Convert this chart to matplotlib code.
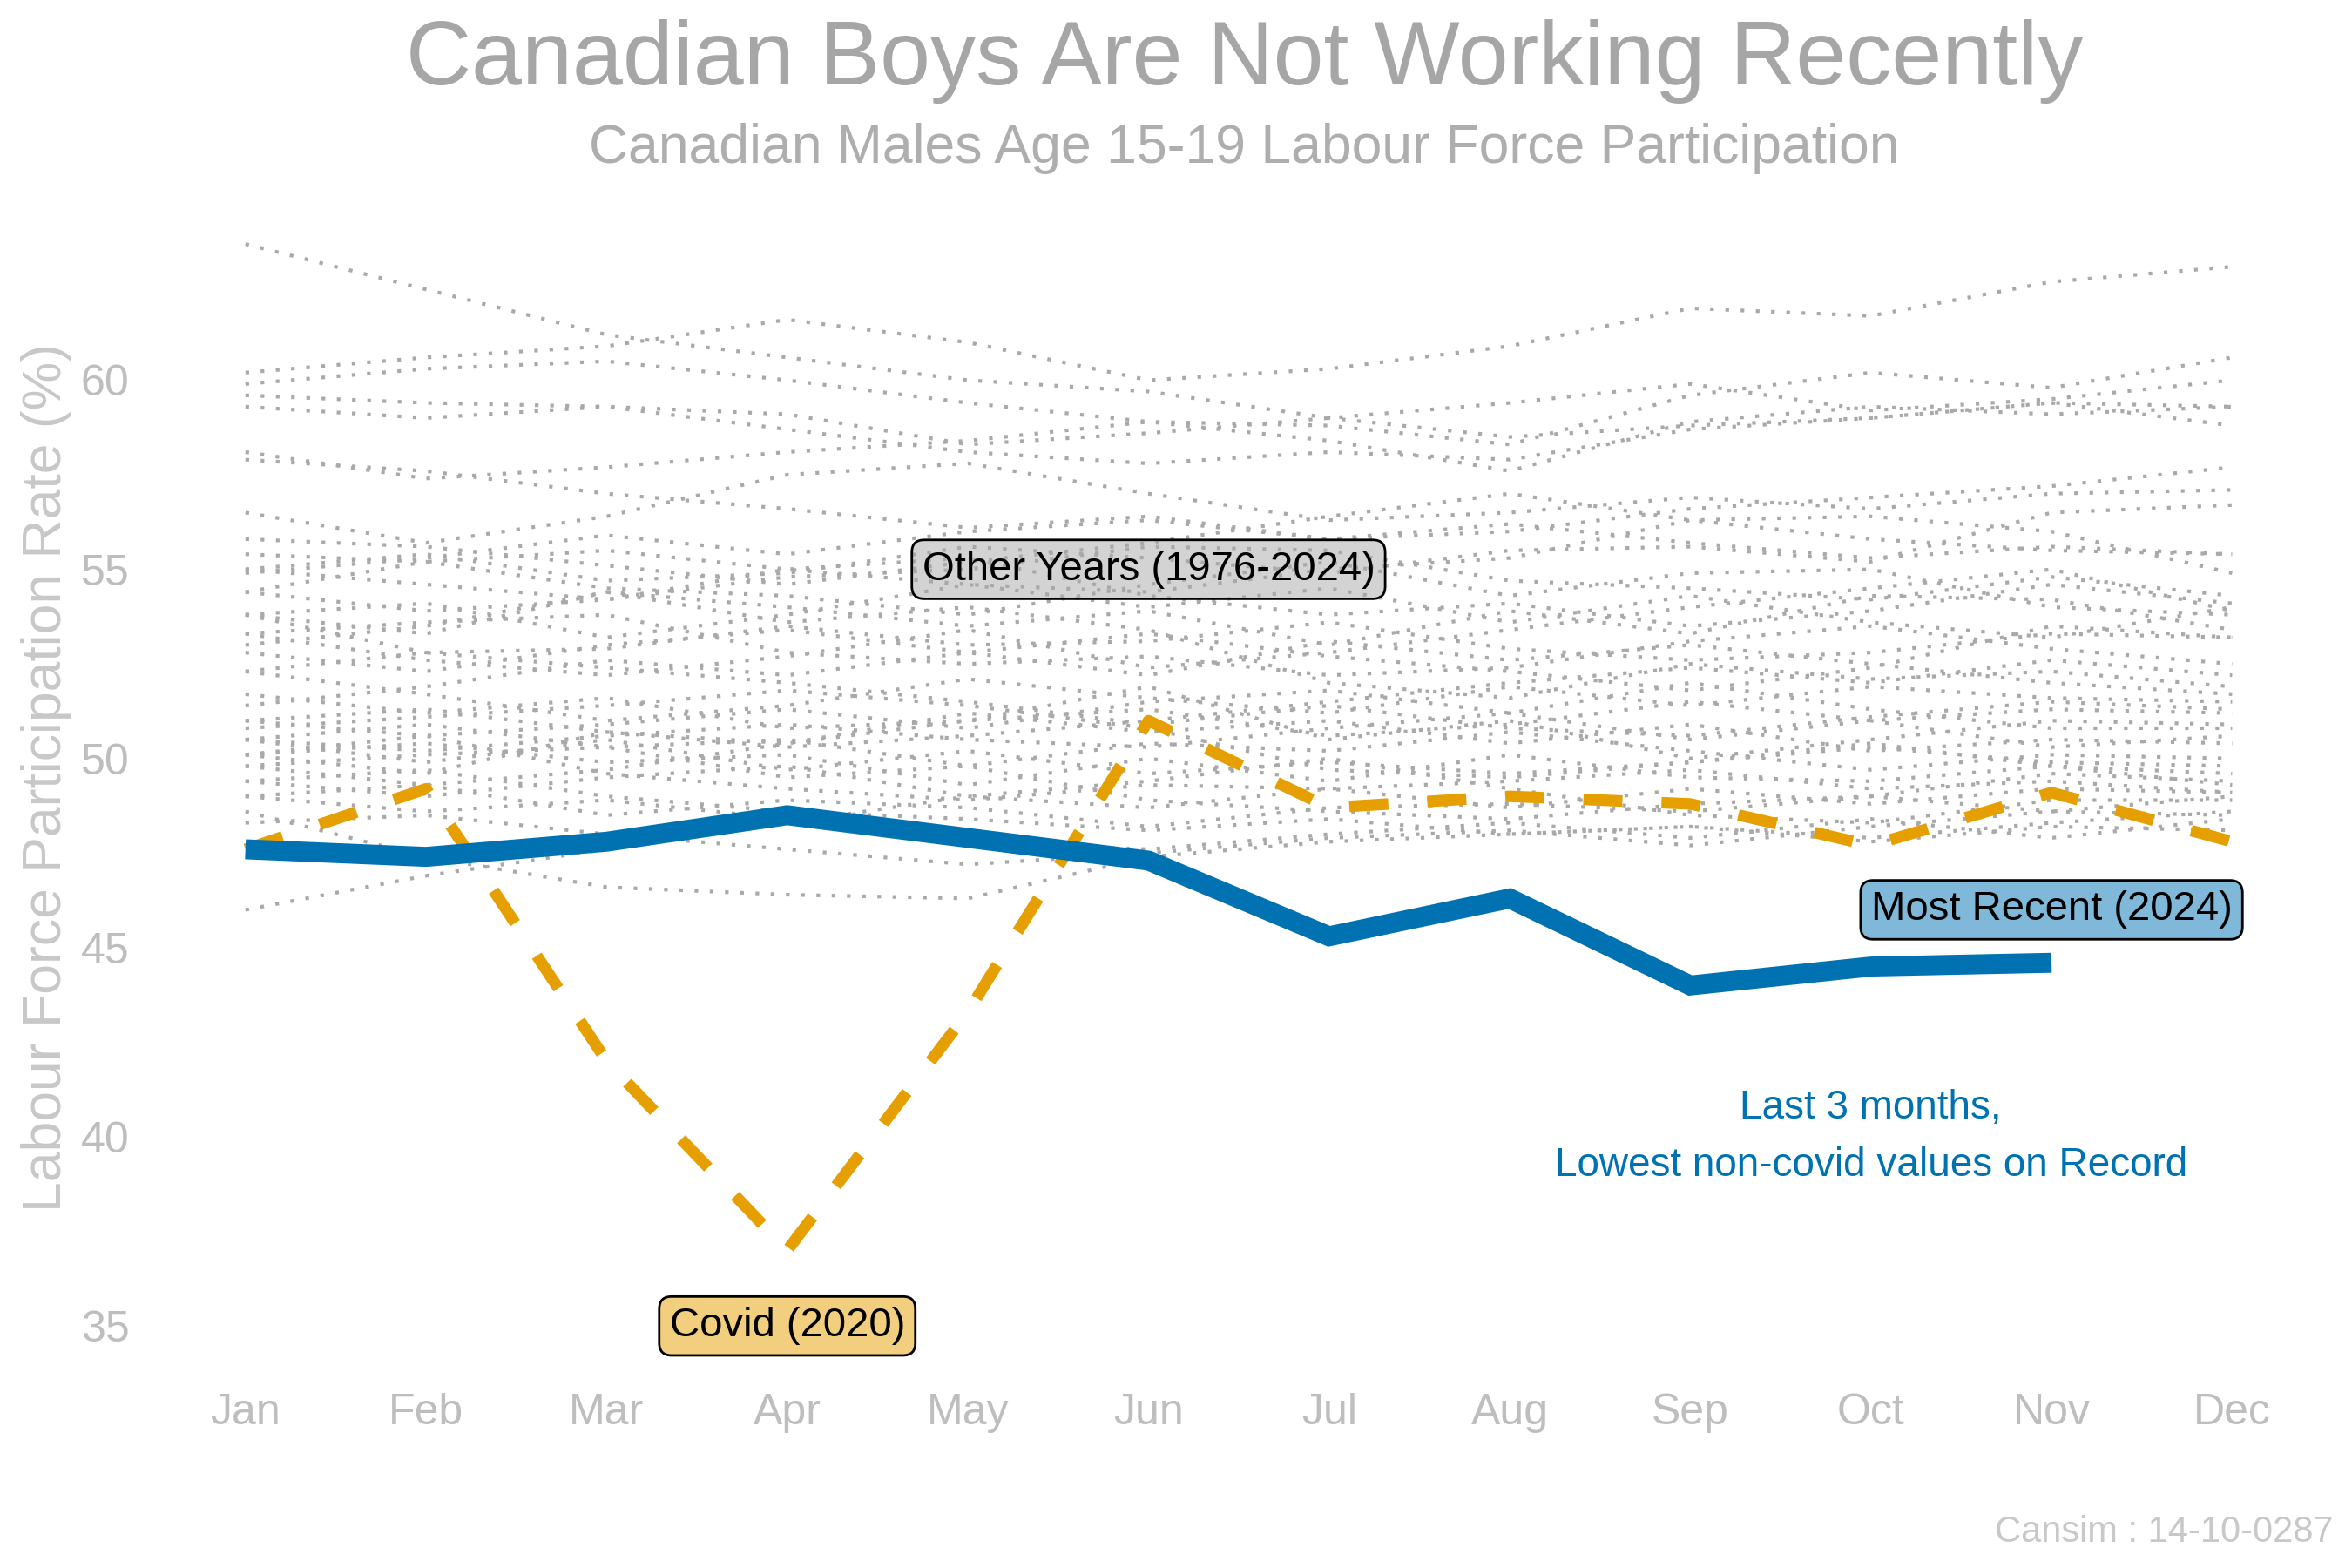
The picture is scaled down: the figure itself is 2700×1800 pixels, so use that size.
import numpy as np
import matplotlib.pyplot as plt

plt.rcParams['font.family'] = ['Liberation Sans', 'DejaVu Sans']

months = ['Jan', 'Feb', 'Mar', 'Apr', 'May', 'Jun',
          'Jul', 'Aug', 'Sep', 'Oct', 'Nov', 'Dec']

# other years (1976-2024), one row per year
other_years = [
    [63.6, 62.4, 61.2, 60.6, 60.0, 59.7, 59.0, 58.5, 58.8, 59.0, 59.4, 59.3],
    [60.2, 60.6, 60.9, 61.6, 61.0, 60.0, 60.3, 60.9, 61.9, 61.7, 62.6, 63.0],
    [59.9, 60.3, 60.5, 60.0, 59.4, 58.9, 58.8, 58.3, 59.6, 60.2, 59.8, 60.6],
    [59.6, 59.4, 59.3, 59.1, 58.3, 58.6, 59.0, 59.4, 59.9, 59.2, 59.5, 60.0],
    [59.3, 59.0, 59.3, 58.7, 58.1, 57.8, 58.1, 57.9, 58.7, 59.0, 59.4, 58.8],
    [58.1, 57.4, 57.7, 58.1, 58.4, 58.9, 58.4, 57.6, 58.9, 59.3, 59.1, 59.3],
    [57.9, 57.6, 57.0, 56.6, 56.1, 56.4, 55.8, 56.0, 56.6, 56.9, 57.2, 57.7],
    [56.5, 55.7, 56.4, 57.5, 57.8, 57.0, 56.3, 56.5, 56.9, 56.6, 57.0, 57.1],
    [55.8, 55.6, 55.1, 54.6, 55.2, 55.7, 56.4, 57.0, 56.3, 55.8, 55.5, 55.4],
    [55.4, 55.2, 55.5, 55.0, 54.6, 54.4, 55.0, 55.3, 56.3, 56.4, 56.0, 54.9],
    [55.0, 55.4, 54.7, 54.9, 55.6, 55.3, 54.9, 55.5, 55.6, 55.2, 56.5, 56.7],
    [55.0, 54.6, 54.2, 54.8, 55.0, 55.6, 55.5, 54.7, 54.5, 54.2, 54.8, 54.3],
    [54.9, 55.3, 55.9, 55.4, 56.0, 56.3, 55.8, 56.2, 55.7, 55.3, 55.6, 55.4],
    [54.4, 55.2, 54.5, 54.3, 53.8, 54.6, 55.2, 54.3, 54.9, 55.0, 54.0, 53.8],
    [54.4, 53.9, 54.2, 55.0, 55.3, 54.3, 53.8, 54.1, 53.5, 53.9, 54.6, 54.1],
    [53.8, 54.1, 53.2, 53.8, 54.6, 54.0, 54.5, 53.6, 54.3, 53.6, 53.2, 54.0],
    [53.8, 53.3, 54.4, 54.0, 53.5, 53.9, 53.0, 53.9, 53.3, 54.3, 54.2, 53.4],
    [53.8, 52.8, 52.9, 53.5, 53.0, 53.1, 53.6, 52.9, 52.6, 52.8, 53.3, 53.2],
    [53.3, 53.6, 53.8, 52.8, 52.5, 52.7, 52.2, 52.4, 53.1, 53.5, 52.9, 52.5],
    [53.3, 52.6, 52.2, 52.7, 53.4, 52.4, 52.8, 53.4, 54.0, 54.5, 55.0, 53.9],
    [53.0, 53.5, 54.4, 53.6, 54.0, 53.4, 52.0, 51.6, 52.5, 52.1, 52.3, 51.9],
    [52.8, 52.3, 53.0, 53.4, 52.8, 52.2, 53.1, 52.6, 53.0, 52.5, 52.0, 51.7],
    [52.3, 51.7, 51.0, 51.4, 52.1, 51.6, 51.2, 51.9, 51.4, 51.9, 51.6, 51.5],
    [52.3, 52.8, 52.4, 52.0, 51.5, 50.9, 51.4, 50.8, 50.6, 51.1, 51.5, 51.3],
    [51.7, 51.2, 51.6, 50.8, 51.0, 51.9, 50.5, 51.0, 50.0, 50.5, 51.0, 50.9],
    [51.4, 51.9, 52.6, 52.2, 52.8, 53.3, 52.7, 52.3, 51.8, 52.4, 53.5, 53.2],
    [51.0, 50.6, 50.9, 51.3, 50.8, 51.5, 51.8, 51.2, 52.0, 51.3, 50.8, 50.8],
    [51.0, 51.3, 50.7, 50.4, 51.2, 50.7, 51.0, 50.4, 50.9, 50.2, 50.5, 50.4],
    [50.8, 51.1, 51.4, 51.8, 51.4, 50.8, 49.7, 49.5, 49.9, 50.3, 49.9, 49.8],
    [50.5, 50.2, 50.6, 50.9, 50.5, 50.3, 50.8, 51.2, 50.5, 51.0, 50.3, 50.6],
    [50.5, 50.9, 50.3, 50.5, 49.8, 50.4, 50.2, 50.7, 50.2, 49.7, 50.1, 50.0],
    [50.5, 49.9, 50.5, 49.7, 50.2, 49.6, 49.9, 49.6, 49.9, 50.4, 49.8, 49.6],
    [50.1, 50.4, 49.9, 50.1, 49.3, 50.0, 49.4, 50.1, 49.5, 49.4, 49.8, 49.3],
    [50.1, 49.6, 50.7, 50.3, 50.6, 51.0, 51.5, 52.0, 52.4, 52.0, 52.6, 52.2],
    [50.1, 50.6, 49.6, 49.2, 48.9, 49.3, 49.2, 48.7, 49.2, 48.8, 49.2, 49.1],
    [49.8, 49.3, 49.7, 50.4, 51.0, 51.3, 50.6, 50.9, 51.5, 51.0, 51.3, 51.2],
    [49.8, 50.1, 50.3, 49.5, 49.8, 48.9, 48.6, 48.4, 48.8, 49.0, 48.6, 48.5],
    [49.4, 49.0, 49.5, 49.8, 49.0, 49.4, 50.0, 49.2, 48.5, 48.3, 48.9, 48.9],
    [49.4, 49.7, 49.0, 48.6, 48.4, 48.1, 48.4, 48.0, 48.2, 47.8, 48.2, 48.1],
    [49.0, 48.6, 48.9, 48.4, 47.8, 47.6, 48.0, 48.3, 47.9, 48.4, 47.9, 48.4],
    [49.0, 49.3, 48.5, 48.9, 48.7, 48.2, 48.7, 48.8, 48.6, 49.0, 49.6, 49.4],
    [48.6, 47.4, 46.6, 46.4, 46.3, 47.4, 47.8, 48.0, 48.2, 47.9, 48.3, 48.6],
    [48.3, 48.5, 48.0, 47.6, 47.2, 47.5, 47.9, 48.1, 47.7, 48.2, 48.6, 49.0],
    [46.0, 46.9, 47.6, 48.3, 49.0, 48.7, 49.2, 49.4, 49.7, 49.2, 49.4, 49.1],
]

covid_2020 = [47.6, 49.2, 42.0, 37.0, 43.3, 51.0, 48.7, 49.0, 48.8, 47.7, 49.1, 47.8]
recent_2024 = [47.6, 47.4, 47.8, 48.5, 47.9, 47.3, 45.3, 46.3, 44.0, 44.5, 44.6]

x = np.arange(1, 13)

fig = plt.figure(figsize=(27, 18), dpi=100)
ax = fig.add_axes([0.089, 0.1423, 0.8754, 0.7238])

for row in other_years:
    ax.plot(x, row, color='#A9A9A9', lw=3.0, linestyle=(0, (1, 3.2)),
            dash_capstyle='butt', zorder=2)

ax.plot(x, covid_2020, color='#E69F00', lw=9.5, linestyle=(0, (3.4, 3.4)),
        dash_capstyle='butt', zorder=3)
ax.plot(x[:len(recent_2024)], recent_2024, color='#0072B2', lw=16.5,
        solid_joinstyle='miter', solid_capstyle='butt', zorder=4)

# labels
ax.text(6, 55.0, 'Other Years (1976-2024)', fontsize=34, color='black',
        ha='center', va='center', zorder=5,
        bbox=dict(boxstyle='round,pad=0.25,rounding_size=0.3',
                  facecolor=(0.663, 0.663, 0.663, 0.5), edgecolor='black', lw=2))
ax.text(4, 35.0, 'Covid (2020)', fontsize=34, color='black',
        ha='center', va='center', zorder=5,
        bbox=dict(boxstyle='round,pad=0.25,rounding_size=0.3',
                  facecolor=(0.902, 0.624, 0.0, 0.5), edgecolor='black', lw=2))
ax.text(11, 46.0, 'Most Recent (2024)', fontsize=34, color='black',
        ha='center', va='center', zorder=5,
        bbox=dict(boxstyle='round,pad=0.25,rounding_size=0.3',
                  facecolor=(0.0, 0.447, 0.698, 0.5), edgecolor='black', lw=2))

ax.text(10, 40.75, 'Last 3 months,', fontsize=33, color='#0072B2',
        ha='center', va='center')
ax.text(10, 39.25, 'Lowest non-covid values on Record', fontsize=33,
        color='#0072B2', ha='center', va='center')

ax.set_xlim(0.8, 12.2)
ax.set_ylim(34.5, 64.5)
ax.set_xticks(x)
ax.set_xticklabels(months)
ax.set_yticks([35, 40, 45, 50, 55, 60])
ax.tick_params(axis='both', length=0, labelsize=36, labelcolor='#BEBEBE')
ax.tick_params(axis='x', pad=40)
ax.tick_params(axis='y', pad=66)
for s in ax.spines.values():
    s.set_visible(False)

ax.set_ylabel('Labour Force Participation Rate (%)', fontsize=45, color='#C8C8C8')
ax.yaxis.label.set_va('center')
ax.yaxis.set_label_coords(-0.079, 0.5)

fig.text(0.529, 0.961, 'Canadian Boys Are Not Working Recently', fontsize=75,
         color='#A6A6A6', ha='center', va='center')
fig.text(0.529, 0.905, 'Canadian Males Age 15-19 Labour Force Participation',
         fontsize=45, color='#AEAEAE', ha='center', va='center')
fig.text(0.992, 0.023, 'Cansim : 14-10-0287', fontsize=30, color='#C8C8C8',
         ha='right', va='center')

fig.savefig('out.png', dpi=100, facecolor='white')
